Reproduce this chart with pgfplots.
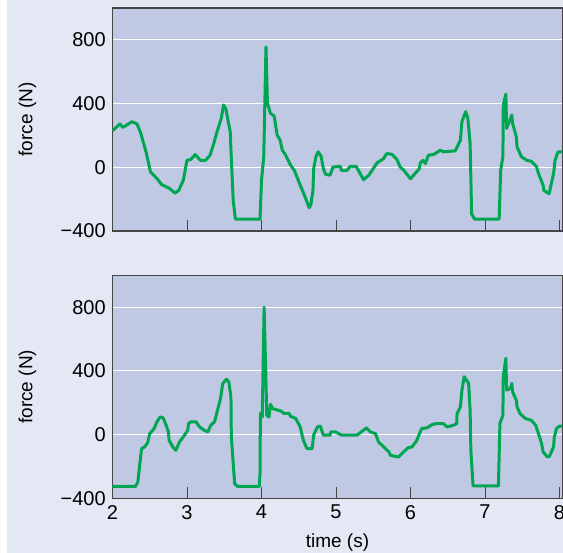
\documentclass[border=0pt]{standalone}
\usepackage{fontspec}
\setmainfont{Liberation Sans}
\usepackage{pgfplots}
\pgfplotsset{compat=1.18}
\usepackage{pgfplotstable}
\definecolor{bgc}{HTML}{E3E8F4}
\definecolor{plotc}{HTML}{BFC9E4}
\definecolor{linec}{HTML}{00A651}
\definecolor{axc}{HTML}{444444}

\pgfplotstableread{
t f
2.00 229
2.10 272
2.14 250
2.26 286
2.33 272
2.38 213
2.45 97
2.51 -29
2.60 -72
2.66 -109
2.76 -131
2.84 -162
2.89 -145
2.95 -82
3.00 44
3.05 48
3.11 80
3.18 44
3.25 44
3.31 76
3.36 150
3.39 202
3.46 307
3.49 391
3.52 370
3.58 223
3.59 107
3.62 -208
3.65 -325
3.98 -325
4.00 -82
4.03 65
4.06 756
4.08 402
4.12 339
4.17 322
4.21 202
4.25 170
4.28 107
4.32 80
4.39 13
4.44 -19
4.53 -124
4.58 -180
4.64 -254
4.66 -240
4.69 -150
4.70 -10
4.73 65
4.76 97
4.80 70
4.83 -8
4.86 -44
4.92 -50
4.96 2
5.06 6
5.07 -19
5.15 -19
5.19 6
5.27 6
5.37 -78
5.44 -50
5.55 27
5.64 55
5.68 86
5.75 82
5.82 48
5.86 2
5.91 -19
6.00 -72
6.12 -8
6.13 27
6.17 44
6.20 23
6.24 76
6.31 80
6.40 107
6.44 97
6.60 103
6.67 170
6.69 286
6.74 349
6.77 307
6.80 149
6.82 -293
6.86 -325
7.19 -325
7.21 -19
7.24 65
7.245 391
7.28 459
7.29 244
7.36 328
7.37 276
7.42 192
7.43 128
7.49 65
7.56 44
7.62 38
7.69 6
7.71 -29
7.78 -114
7.79 -145
7.86 -166
7.92 -40
7.94 44
7.98 97
8.04 97
}\topdata

\pgfplotstableread{
t f
2.00 -325
2.31 -325
2.34 -298
2.39 -88
2.43 -78
2.47 -53
2.50 6
2.56 38
2.59 74
2.64 111
2.68 105
2.72 59
2.75 17
2.76 -36
2.81 -78
2.85 -99
2.90 -46
2.95 -15
3.01 27
3.02 69
3.05 80
3.12 80
3.17 48
3.23 27
3.28 17
3.32 59
3.37 80
3.41 153
3.45 227
3.48 321
3.53 347
3.56 332
3.59 237
3.595 -15
3.64 -309
3.68 -325
3.97 -325
3.98 -243
3.985 134
4.01 110
4.035 800
4.06 341
4.07 121
4.10 110
4.12 190
4.15 163
4.26 148
4.30 133
4.37 133
4.39 115
4.46 101
4.52 48
4.55 -15
4.57 -46
4.61 -88
4.68 -88
4.70 -4
4.75 48
4.79 53
4.83 -4
4.92 -4
4.93 17
4.99 17
5.08 -4
5.28 -4
5.41 42
5.46 17
5.53 6
5.57 -46
5.64 -78
5.71 -109
5.73 -130
5.84 -141
5.89 -116
5.97 -82
6.02 -78
6.08 -40
6.15 38
6.22 42
6.29 63
6.35 69
6.44 69
6.49 48
6.58 59
6.62 69
6.625 132
6.67 174
6.69 279
6.72 363
6.78 321
6.80 153
6.81 -99
6.84 -322
7.18 -322
7.20 69
7.24 122
7.245 363
7.28 479
7.29 279
7.34 290
7.36 321
7.37 269
7.42 216
7.43 174
7.47 132
7.54 101
7.62 90
7.68 59
7.71 17
7.76 -57
7.78 -109
7.83 -137
7.86 -141
7.92 -78
7.93 -15
7.96 38
8.00 53
8.04 53
}\botdata

\pgfplotsset{
  panel/.style={
    scale only axis, width=450pt, height=223pt,
    xmin=2, xmax=8.04, ymin=-400, ymax=1000,
    xtick={2,3,4,5,6,7,8},
    ytick={-400,0,400,800},
    yticklabels={−400,0,400,800},
    axis background/.style={fill=plotc},
    axis line style={draw=axc, line width=1.2pt},
    tick align=inside,
    xtick pos=bottom,
    major tick length=11pt,
    xtick style={draw=axc, line width=1pt},
    ytick style={draw=none},
    ymajorgrids,
    major grid style={draw=white, line width=1pt},
    tick label style={font=\fontsize{20}{23}\selectfont},
    label style={font=\fontsize{19}{22}\selectfont},
    yticklabel style={xshift=-3.3pt},
    xticklabel style={yshift=-3.3pt},
    ylabel={force (N)},
    ylabel style={at={(axis description cs:-0.189,0.5)}, anchor=center},
  },
  trace/.style={draw=linec, line width=3pt, line join=round, no marks},
}

\begin{document}
\begin{tikzpicture}
\useasboundingbox (0pt,0pt) rectangle (563pt,553pt);
\fill[white] (0pt,0pt) rectangle (563pt,553pt);
\fill[bgc] (7pt,0pt) rectangle (563pt,553pt);

\begin{axis}[panel, at={(112.5pt,322pt)}, anchor=south west,
  xticklabels={}]
  \addplot[trace] table[x=t, y=f] {\topdata};
\end{axis}

\begin{axis}[panel, at={(112.5pt,54.7pt)}, anchor=south west,
  xticklabels={2,3,4,5,6,7,8},
  xlabel={time (s)},
  xlabel style={at={(axis description cs:0.5,0)}, anchor=center, yshift=-44pt}]
  \addplot[trace] table[x=t, y=f] {\botdata};
\end{axis}
\end{tikzpicture}
\end{document}
